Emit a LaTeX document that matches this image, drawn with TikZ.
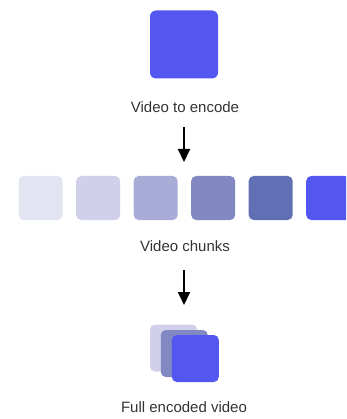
\documentclass[tikz,border=0pt]{standalone}
\usepackage{fontspec}
\setmainfont{Liberation Sans}
\usetikzlibrary{arrows.meta}
\definecolor{vblue}{RGB}{84,86,240}
\definecolor{shadeA}{RGB}{227,228,242}
\definecolor{shadeB}{RGB}{208,208,234}
\definecolor{shadeC}{RGB}{168,172,214}
\definecolor{shadeD}{RGB}{130,137,194}
\definecolor{shadeE}{RGB}{97,112,180}
\definecolor{txtgray}{RGB}{51,51,51}

\begin{document}
\begin{tikzpicture}[x=1pt, y=-1pt,
	chunk/.style={inner sep=0pt, minimum size=44pt, rounded corners=5pt},
	stackbox/.style={inner sep=0pt, minimum size=47pt, rounded corners=5pt},
	caption/.style={text=txtgray, font=\fontsize{15}{18}\selectfont},
	arr/.style={line width=2pt, -{Triangle[length=13pt,width=12pt]}}]
	\clip (0,0) rectangle (346,419);

	\node[inner sep=0pt, minimum size=68pt, rounded corners=6pt, fill=vblue] (source) at (184,44.5) {};
	\node[caption] (sourcelabel) at (185,107) {Video to encode};

	\coordinate (arrowAtop) at (184,127);
	\coordinate (arrowAtip) at (184,162);
	\draw[arr] (arrowAtop) -- (arrowAtip);

	\node[chunk, fill=shadeA] (chunk1) at (40.7,198) {};
	\node[chunk, fill=shadeB] (chunk2) at (98.2,198) {};
	\node[chunk, fill=shadeC] (chunk3) at (155.7,198) {};
	\node[chunk, fill=shadeD] (chunk4) at (213.2,198) {};
	\node[chunk, fill=shadeE] (chunk5) at (270.7,198) {};
	\node[chunk, fill=vblue] (chunk6) at (328.2,198) {};
	\node[caption] (chunkslabel) at (185,246) {Video chunks};

	\coordinate (arrowBtop) at (184,270);
	\coordinate (arrowBtip) at (184,305);
	\draw[arr] (arrowBtop) -- (arrowBtip);

	\node[stackbox, fill=shadeB] (stackback) at (173.5,348) {};
	\node[stackbox, fill=shadeD] (stackmid) at (184.3,353.5) {};
	\node[stackbox, fill=vblue] (stackfront) at (195.3,358.5) {};
	\node[caption] (resultlabel) at (184,407) {Full encoded video};
\end{tikzpicture}
\end{document}
